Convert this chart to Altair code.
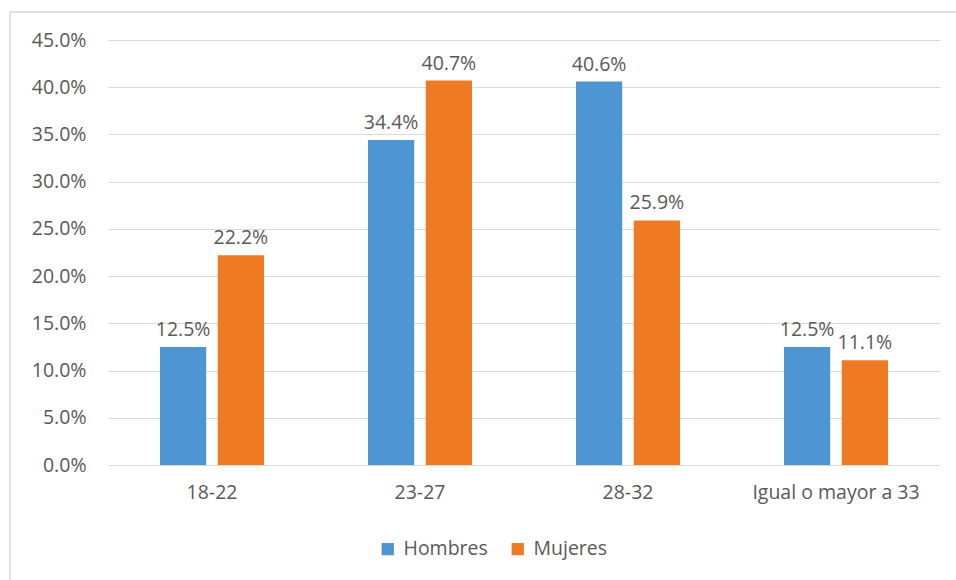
import altair as alt
import pandas as pd

categorias = ["18-22", "23-27", "28-32", "Igual o mayor a 33"]
hombres = [12.5, 34.4, 40.6, 12.5]
mujeres = [22.2, 40.7, 25.9, 11.1]
series = ["Hombres", "Mujeres"]
colores = ["#4E95D3", "#EE7A23"]
ticks_y = [0, 5, 10, 15, 20, 25, 30, 35, 40, 45]

rows = []
for c, h, m in zip(categorias, hombres, mujeres):
    rows.append({"cat": c, "serie": "Hombres", "valor": h / 100})
    rows.append({"cat": c, "serie": "Mujeres", "valor": m / 100})
df = pd.DataFrame(rows)

FONT = "Open Sans"
TXT = "#595959"
FS = 19.5

x_enc = alt.X("cat:N", sort=categorias, title=None,
              scale=alt.Scale(paddingInner=0.5, paddingOuter=0.25),
              axis=alt.Axis(labelAngle=0, ticks=False, domain=False, grid=False,
                            labelPadding=18, labelFontSize=FS, labelColor=TXT,
                            labelFont=FONT))
y_enc = alt.Y("valor:Q", title=None,
              scale=alt.Scale(domain=[0, 0.45], nice=False),
              axis=alt.Axis(values=[t / 100 for t in ticks_y], format=".1%", ticks=False,
                            domain=False, labelPadding=22, labelFontSize=FS,
                            labelColor=TXT, labelFont=FONT,
                            gridColor="#D9D9D9", gridWidth=1.2))
xo = alt.XOffset("serie:N", sort=series, scale=alt.Scale(paddingInner=0.2))

base = alt.Chart(df).encode(x=x_enc, xOffset=xo)

bars = base.mark_bar().encode(
    y=y_enc,
    color=alt.Color("serie:N", sort=series,
                    scale=alt.Scale(domain=series, range=colores),
                    legend=alt.Legend(title=None, orient="none", direction="horizontal",
                                      legendX=270, legendY=499, symbolType="square",
                                      symbolSize=150, symbolStrokeWidth=0,
                                      labelFontSize=FS, labelColor=TXT, labelFont=FONT,
                                      columnPadding=20, labelOffset=6)),
)

labels = base.mark_text(baseline="bottom", dy=-7, fontSize=FS, color=TXT, font=FONT).encode(
    y=alt.Y("valor:Q"),
    text=alt.Text("valor:Q", format=".1%"),
)

frame = alt.Chart(pd.DataFrame({"k": [0]})).mark_rect(
    fill=None, stroke="#D9D9D9", strokeWidth=1.5
).encode(x=alt.value(-98), x2=alt.value(860), y=alt.value(-28), y2=alt.value(560))

chart = alt.layer(frame, bars, labels).properties(
    width=832, height=425,
    padding={"left": 108, "top": 40, "right": 16, "bottom": 115},
    autosize=alt.AutoSizeParams(type="none"),
    background="white",
).configure_view(strokeWidth=0, strokeOpacity=0)

chart.save("out.html", embed_options={"renderer": "svg", "actions": False})
